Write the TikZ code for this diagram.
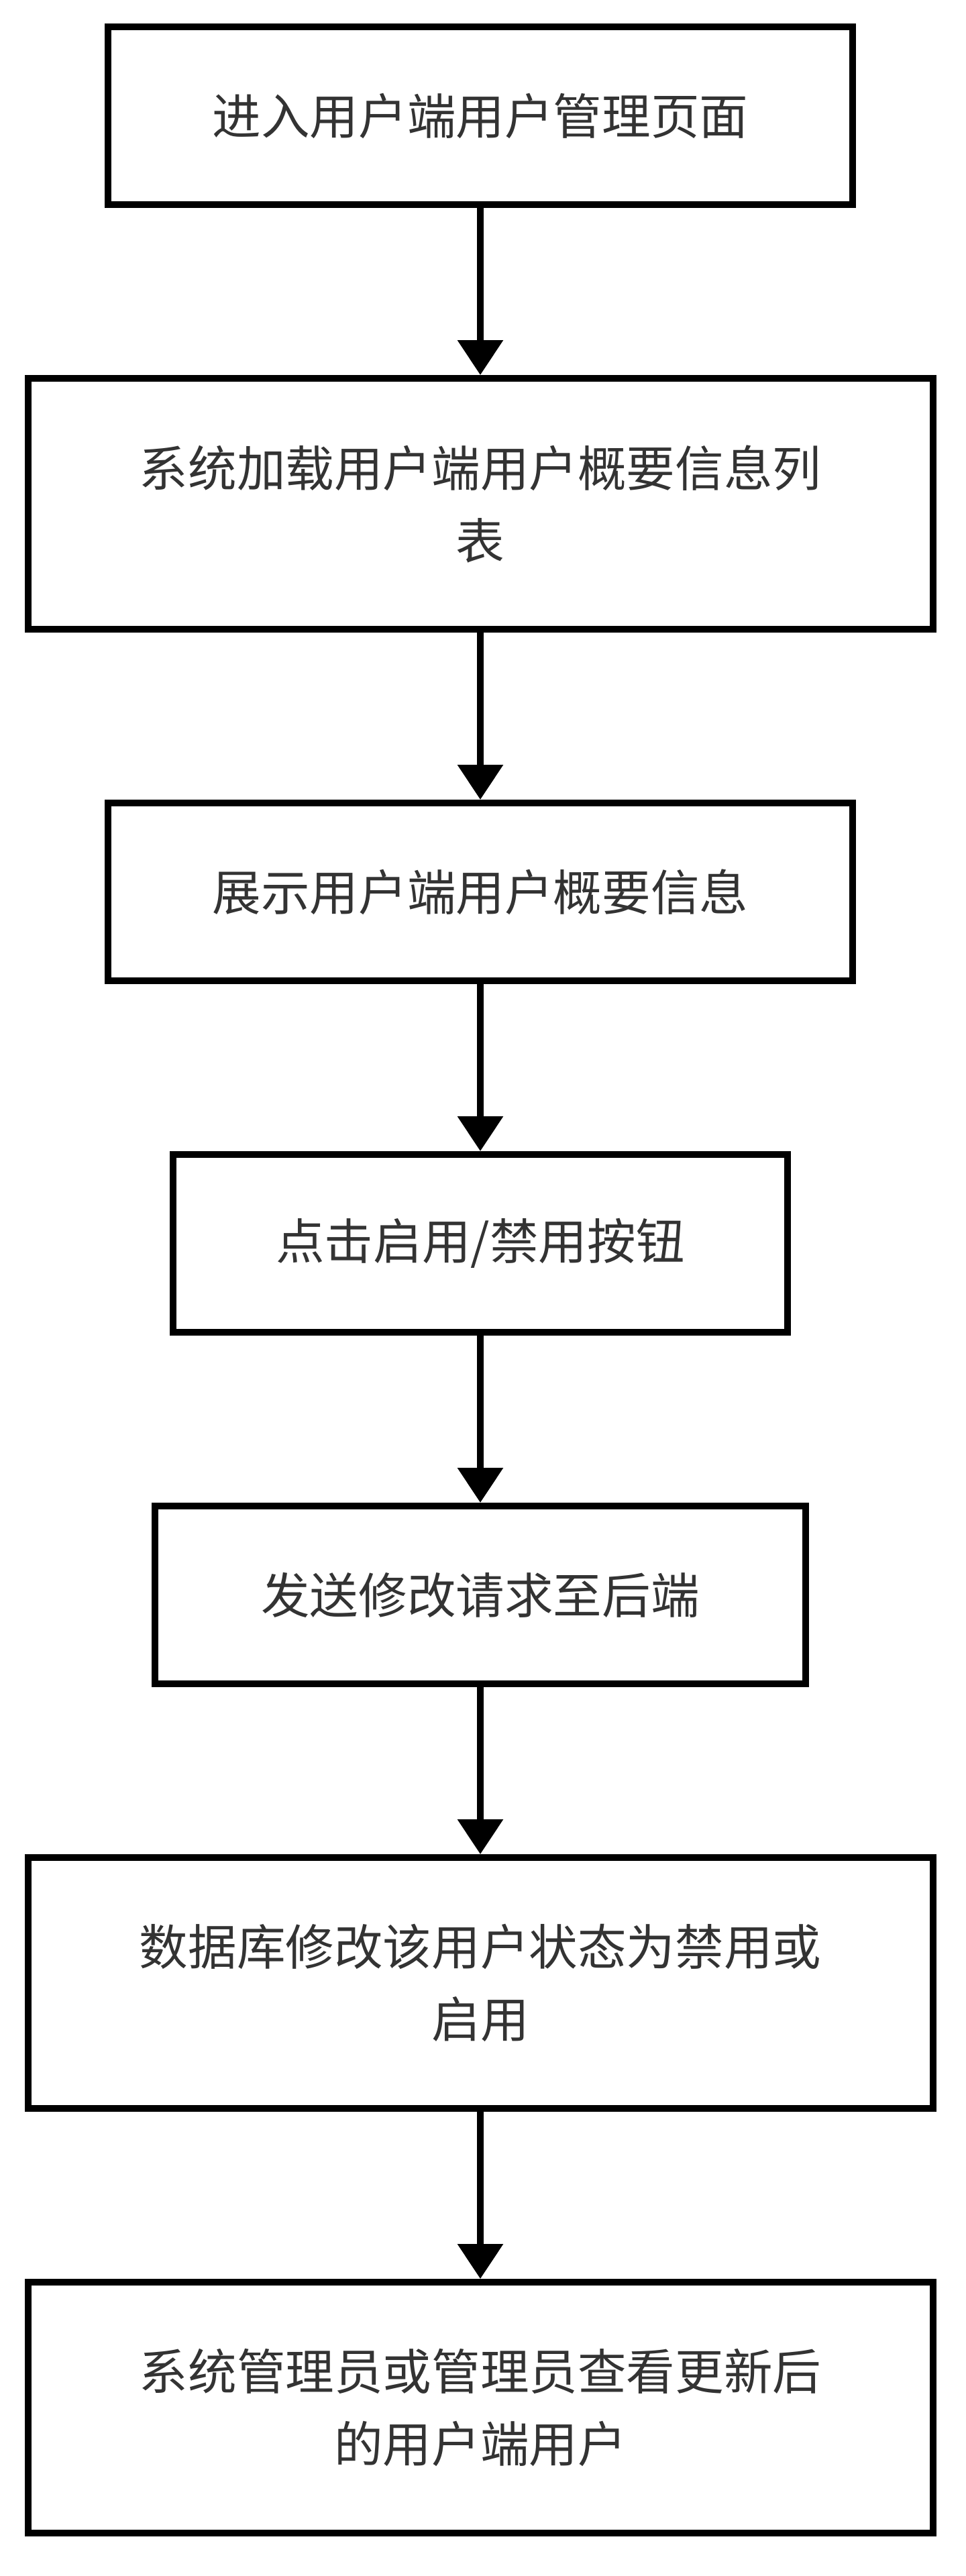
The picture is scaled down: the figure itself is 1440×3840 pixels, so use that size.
\documentclass[tikz,border=0pt]{standalone}
\usepackage{fontspec}
\setmainfont{Noto Sans CJK SC}
\usetikzlibrary{arrows.meta}
\definecolor{textgray}{HTML}{333333}
\tikzset{
  stepbox/.style={draw=black, line width=5pt, rectangle, text=textgray, align=center,
    font=\fontsize{36.3pt}{54pt}\selectfont},
  onerow/.style={stepbox, minimum height=132.5pt},
  tworow/.style={stepbox, minimum height=187pt},
  flow/.style={-{Triangle[width=33pt,length=26pt]}, line width=5pt}
}
\begin{document}
\begin{tikzpicture}[x=0.5pt,y=-0.5pt]
  \useasboundingbox (0,0) rectangle (1440,3840);

  \node[onerow, minimum width=555pt]   (enter)  at (716,172.5) {进入用户端用户管理页面};
  \node[tworow, minimum width=674.5pt] (load)   at (716,751)   {系统加载用户端用户概要信息列\\表};
  \node[onerow, minimum width=555pt]   (show)   at (716,1329.5) {展示用户端用户概要信息};
  \node[onerow, minimum width=458pt]   (click)  at (716,1853.5) {点击启用/禁用按钮};
  \node[onerow, minimum width=485pt]   (send)   at (716,2377.5) {发送修改请求至后端};
  \node[tworow, minimum width=674.5pt] (update) at (716,2956)  {数据库修改该用户状态为禁用或\\启用};
  \node[tworow, minimum width=674.5pt] (view)   at (716,3589)  {系统管理员或管理员查看更新后\\的用户端用户};

  \draw[flow] (enter)  -- (load);
  \draw[flow] (load)   -- (show);
  \draw[flow] (show)   -- (click);
  \draw[flow] (click)  -- (send);
  \draw[flow] (send)   -- (update);
  \draw[flow] (update) -- (view);
\end{tikzpicture}
\end{document}
